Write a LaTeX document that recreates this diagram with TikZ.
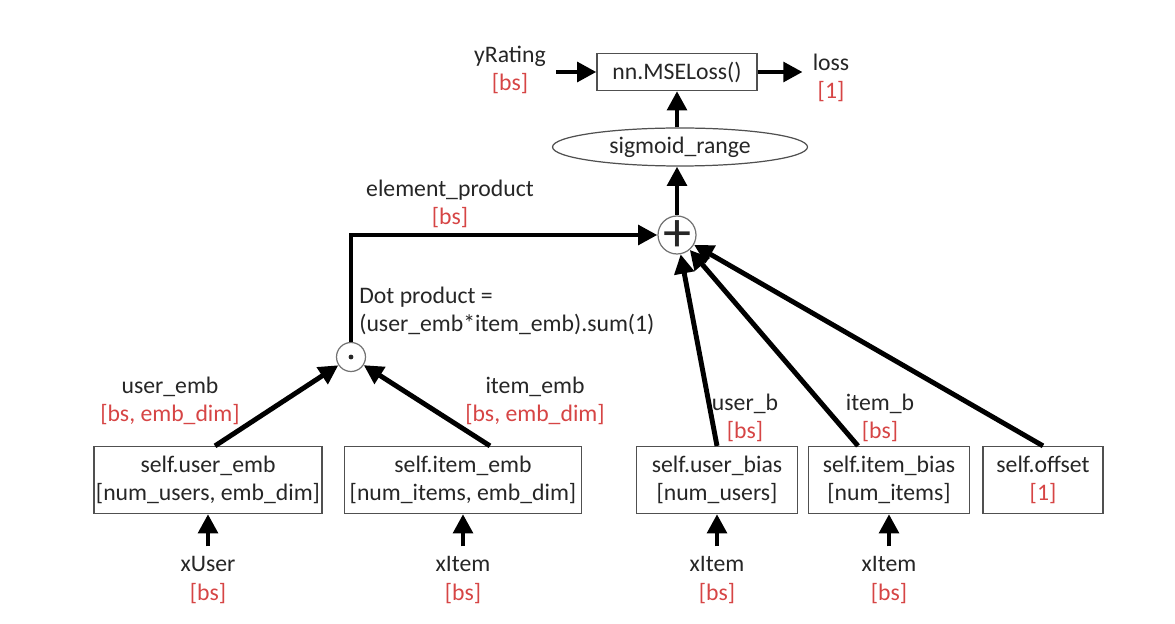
\documentclass[tikz,border=0pt]{standalone}
\usepackage{fontspec}
\setmainfont{Carlito}
\usetikzlibrary{arrows.meta}
\usetikzlibrary{shapes.geometric}
\definecolor{shapeColor}{HTML}{D64545}
\definecolor{textColor}{HTML}{262626}
\definecolor{borderColor}{HTML}{505050}
\newcommand{\shp}[1]{\textcolor{shapeColor}{#1}}

\begin{document}
\begin{tikzpicture}[x=0.02cm, y=-0.02cm,
    every node/.style={font=\fontsize{13.5}{16}\selectfont, text=textColor, align=center, inner sep=0pt},
    layer/.style={draw=borderColor, line width=0.7pt, minimum height=1.34cm},
    op/.style={draw=borderColor!80, circle, line width=0.7pt},
    flow/.style={line width=2.8pt, -{Triangle[length=11pt, width=11pt]}}]
      \useasboundingbox (0,0) rectangle (1175,624);
      % loss
      \node[layer, minimum width=3.2cm, minimum height=0.74cm] (mse) at (677,72) {nn.MSELoss()};
      \node (yrating) at (510,70) {yRating\\\shp{[bs]}};
      \node (loss) at (831,78) {loss\\\shp{[1]}};
      \draw[flow] (yrating.east |- mse) ++(10,0) -- (mse.west);
      \draw[flow] (mse.east) -- ++(45,0) coordinate (lossin);

      \node[draw=borderColor, ellipse, line width=0.7pt, minimum width=5.1cm, minimum height=0.76cm] (sig) at (680,147) {sigmoid\_range};
      \draw[flow] (sig.north -| mse) -- (mse.south);

      \node[op, minimum size=0.76cm] (plus) at (677,235) {};
      \node[yshift=-0.5pt] at (plus) {\fontsize{32}{32}\selectfont +};
      \draw[flow] (plus.north) -- (plus.north |- sig.south);

      % dot product
      \node[op, minimum size=0.58cm] (dot) at (351,357) {};
      \fill[textColor] (dot) circle (2.4);
      \node (elprod) at (450,204) {element\_product\\\shp{[bs]}};
      \node[align=left, anchor=west] (dotlbl) at (359,311) {Dot product =\\(user\_emb*item\_emb).sum(1)};
      \draw[flow] (dot.north) |- (plus.west);

      % embeddings and biases
      \node[layer, minimum width=4.56cm] (uemb) at (208,480) {self.user\_emb\\{[}num\_users, emb\_dim{]}};
      \node[layer, minimum width=4.74cm] (iemb) at (463,480) {self.item\_emb\\{[}num\_items, emb\_dim{]}};
      \node[layer, minimum width=3.22cm] (ubias) at (717,480) {self.user\_bias\\{[}num\_users{]}};
      \node[layer, minimum width=3.22cm] (ibias) at (889,480) {self.item\_bias\\{[}num\_items{]}};
      \node[layer, minimum width=2.4cm] (offset) at (1043,480) {self.offset\\\shp{[1]}};

      \node (uemblbl) at (170,401) {user\_emb\\\shp{[bs, emb\_dim]}};
      \node (iemblbl) at (535,401) {item\_emb\\\shp{[bs, emb\_dim]}};
      \node (ublbl) at (745,418) {user\_b\\\shp{[bs]}};
      \node (iblbl) at (880,418) {item\_b\\\shp{[bs]}};

      \draw[flow] ([xshift=0.14cm]uemb.north) -- (dot);
      \draw[flow] ([xshift=0.54cm]iemb.north) -- (dot);
      \draw[flow] (ubias.north) -- (plus);
      \draw[flow] ([xshift=-0.62cm]ibias.north) -- (plus);
      \draw[flow] (offset.north) -- (plus);

      % inputs
      \node (xuser) at (208,580) {xUser\\\shp{[bs]}};
      \node (xitem1) at (463,580) {xItem\\\shp{[bs]}};
      \node (xitem2) at (717,580) {xItem\\\shp{[bs]}};
      \node (xitem3) at (889,580) {xItem\\\shp{[bs]}};
      \draw[flow] (xuser.north) ++(0,-10) -- (uemb.south);
      \draw[flow] (xitem1.north) ++(0,-10) -- (iemb.south);
      \draw[flow] (xitem2.north) ++(0,-10) -- (ubias.south);
      \draw[flow] (xitem3.north) ++(0,-10) -- (ibias.south);
    \end{tikzpicture}
\end{document}
